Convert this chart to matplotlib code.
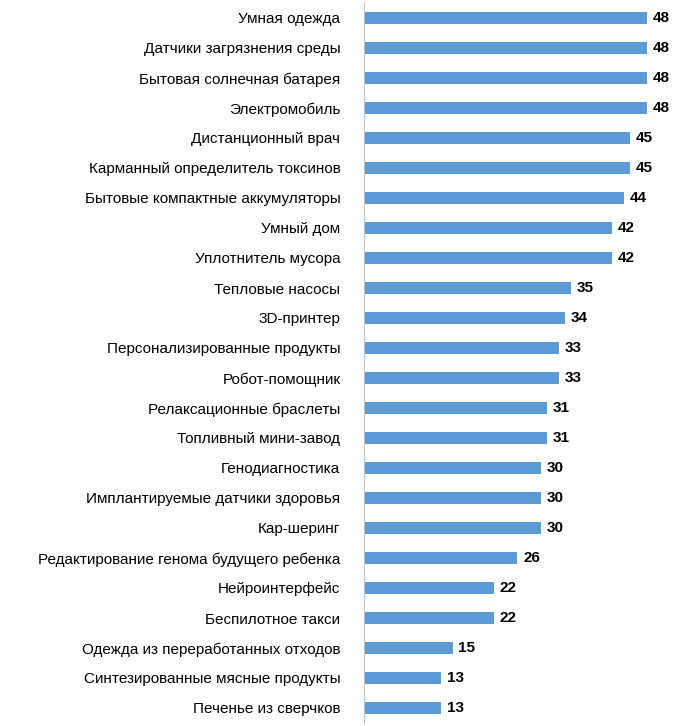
import matplotlib
matplotlib.use("Agg")
import matplotlib.pyplot as plt

labels = [
    "Умная одежда", "Датчики загрязнения среды", "Бытовая солнечная батарея",
    "Электромобиль", "Дистанционный врач", "Карманный определитель токсинов",
    "Бытовые компактные аккумуляторы", "Умный дом", "Уплотнитель мусора",
    "Тепловые насосы", "3D-принтер", "Персонализированные продукты",
    "Робот-помощник", "Релаксационные браслеты", "Топливный мини-завод",
    "Генодиагностика", "Имплантируемые датчики здоровья", "Кар-шеринг",
    "Редактирование генома будущего ребенка", "Нейроинтерфейс",
    "Беспилотное такси", "Одежда из переработанных отходов",
    "Синтезированные мясные продукты", "Печенье из сверчков",
]
values = [48, 48, 48, 48, 45, 45, 44, 42, 42, 35, 34, 33, 33, 31, 31, 30, 30, 30,
          26, 22, 22, 15, 13, 13]

plt.rcParams["font.family"] = ["Liberation Sans", "DejaVu Sans"]
fig = plt.figure(figsize=(6.84, 7.26), dpi=100)
ax = fig.add_axes([364 / 684, 3 / 726, 318.6 / 684, 720 / 726])

y = list(range(len(labels)))
ax.barh(y, values, height=0.42, color="#5b9bd5")
for yi, v in zip(y, values):
    ax.text(v + 1.0, yi, str(v), va="center", ha="left",
            fontsize=11, fontweight="bold", color="black")

ax.set_yticks(y)
ax.set_yticklabels(labels, fontsize=11)
ax.set_ylim(len(labels) - 0.5, -0.5)
ax.set_xlim(0, 54)
ax.set_xticks([])
ax.tick_params(axis="y", length=0, pad=17)
for s in ["top", "right", "bottom"]:
    ax.spines[s].set_visible(False)
ax.spines["left"].set_color("#bfbfbf")

fig.savefig("out.png", dpi=100)
